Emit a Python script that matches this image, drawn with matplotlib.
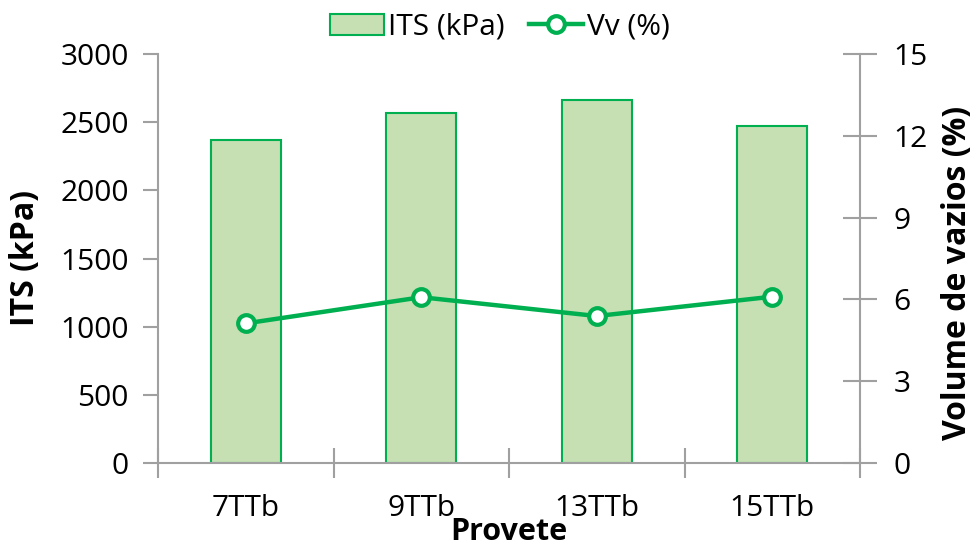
import matplotlib
matplotlib.use("Agg")
import matplotlib.pyplot as plt
from matplotlib.lines import Line2D
from matplotlib.patches import Patch

categories = ["7TTb", "9TTb", "13TTb", "15TTb"]
its_kpa = [2370, 2570, 2665, 2470]
vv_pct = [5.12, 6.08, 5.39, 6.10]

plt.rcParams['font.family'] = ['Open Sans', 'DejaVu Sans']
FS = 21.5
LFS = 23
GREEN = '#00B050'
FILL = '#C6E0B4'
GRAY = '#A0A0A0'

fig = plt.figure(figsize=(9.73, 5.48), dpi=100)
ax = fig.add_axes([158/973, 85/548, (860-158)/973, (463-54)/548])
ax2 = ax.twinx()

x = list(range(len(categories)))
ax.bar(x, its_kpa, width=0.4, color=FILL, edgecolor=GREEN, linewidth=1.5, zorder=2)
ax2.plot(x, vv_pct, color=GREEN, linewidth=3.2, marker='o', markersize=12,
         markerfacecolor='white', markeredgecolor=GREEN, markeredgewidth=3, zorder=3)

ax.set_xlim(-0.5, len(categories) - 0.5)
ax.set_ylim(0, 3000)
ax.set_yticks(range(0, 3001, 500))
ax2.set_ylim(0, 15)
ax2.set_yticks(range(0, 16, 3))

# x ticks at category boundaries, labels at centers
ax.set_xticks([i - 0.5 for i in range(len(categories) + 1)])
ax.set_xticklabels([])
ax.set_xticks(x, minor=True)
ax.set_xticklabels(categories, minor=True)
ax.tick_params(axis='x', which='major', direction='inout', length=22, width=1.5, color=GRAY)
ax.tick_params(axis='x', which='minor', length=0, pad=22, labelsize=FS)

ax.tick_params(axis='y', direction='out', length=11, width=1.5, color=GRAY, labelsize=FS, pad=10)
ax2.tick_params(axis='y', direction='inout', length=24, width=1.5, color=GRAY, labelsize=FS, pad=12)

for a in (ax, ax2):
    for s in a.spines.values():
        s.set_color(GRAY)
        s.set_linewidth(1.5)
    a.spines['top'].set_visible(False)
ax.spines['right'].set_visible(False)
ax2.spines['left'].set_visible(False)
ax2.spines['bottom'].set_visible(False)

ax.set_ylabel("ITS (kPa)", fontsize=LFS, fontweight='bold')
ax.yaxis.set_label_coords((42 - 158) / 702, 0.5)
ax2.set_ylabel("Volume de vazios (%)", fontsize=LFS, fontweight='bold')
ax2.yaxis.set_label_coords((941 - 158) / 702, (463 - 273) / 409)

fig.text(509/973, 0.5/548, "Provete", fontsize=22, fontweight='bold',
         ha='center', va='bottom')

ax.set_zorder(1)
ax2.set_zorder(2)
ax.patch.set_visible(False)

handles = [Patch(facecolor=FILL, edgecolor=GREEN, linewidth=1.5),
           Line2D([], [], color=GREEN, linewidth=3.2, marker='o', markersize=12,
                  markerfacecolor='white', markeredgecolor=GREEN, markeredgewidth=3)]
fig.legend(handles, ["ITS (kPa)", "Vv (%)"], loc='center',
           bbox_to_anchor=(500/973, 1 - 27/548), ncol=2, frameon=False,
           fontsize=FS, handlelength=1.8, handletextpad=0.15, columnspacing=0.8,
           borderpad=0, borderaxespad=0)

fig.savefig("out.png", dpi=100)
